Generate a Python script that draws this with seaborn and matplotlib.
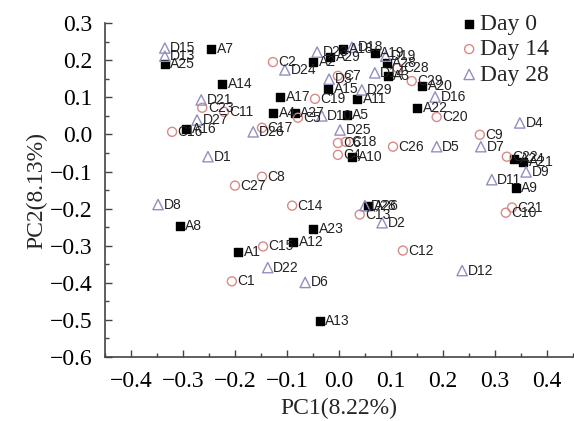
import pandas as pd
import seaborn as sns
import matplotlib.pyplot as plt
from matplotlib.ticker import MultipleLocator

# Day 0 samples (A)
a_names = ['A7', 'A25', 'A14', 'A16', 'A17', 'A2', 'A29', 'A18', 'A19', 'A28',
           'A3', 'A20', 'A22', 'A15', 'A11', 'A4', 'A27', 'A5', 'A10', 'A24',
           'A21', 'A9', 'A26', 'A8', 'A1', 'A23', 'A12', 'A13']
a_pc1 = [-0.246, -0.335, -0.225, -0.294, -0.113, -0.050, -0.017, 0.008, 0.069, 0.092,
         0.094, 0.160, 0.150, -0.021, 0.035, -0.127, -0.085, 0.015, 0.025, 0.337,
         0.354, 0.340, 0.056, -0.306, -0.194, -0.050, -0.088, -0.037]
a_pc2 = [0.230, 0.190, 0.136, 0.015, 0.101, 0.195, 0.209, 0.230, 0.219, 0.192,
         0.158, 0.131, 0.072, 0.123, 0.096, 0.058, 0.058, 0.053, -0.060, -0.066,
         -0.074, -0.144, -0.192, -0.248, -0.318, -0.254, -0.289, -0.504]

# Day 14 samples (C)
c_names = ['C2', 'C23', 'C11', 'C16', 'C17', 'C19', 'C7', 'C5', 'C6', 'C18',
           'C4', 'C26', 'C28', 'C29', 'C20', 'C9', 'C22', 'C21', 'C10', 'C8',
           'C27', 'C14', 'C13', 'C12', 'C15', 'C1']
c_pc1 = [-0.127, -0.263, -0.221, -0.321, -0.148, -0.046, -0.002, -0.079, -0.002, 0.013,
         -0.002, 0.104, 0.113, 0.140, 0.188, 0.271, 0.323, 0.333, 0.321, -0.148,
         -0.200, -0.090, 0.040, 0.123, -0.146, -0.206]
c_pc2 = [0.195, 0.072, 0.061, 0.007, 0.018, 0.096, 0.158, 0.045, -0.023, -0.020,
         -0.055, -0.033, 0.179, 0.144, 0.047, -0.001, -0.060, -0.197, -0.211, -0.114,
         -0.138, -0.192, -0.216, -0.313, -0.302, -0.396]

# Day 28 samples (D)
d_names = ['D15', 'D13', 'D21', 'D27', 'D1', 'D8', 'D26', 'D24', 'D23', 'D18',
           'D19', 'D14', 'D3', 'D29', 'D10', 'D25', 'D16', 'D4', 'D5', 'D7',
           'D9', 'D11', 'D28', 'D2', 'D12', 'D22', 'D6']
d_pc1 = [-0.335, -0.335, -0.265, -0.273, -0.252, -0.348, -0.165, -0.104, -0.042, 0.025,
         0.090, 0.069, -0.019, 0.044, -0.033, 0.002, 0.185, 0.348, 0.188, 0.273,
         0.360, 0.294, 0.050, 0.083, 0.237, -0.137, -0.065]
d_pc2 = [0.233, 0.211, 0.093, 0.039, -0.060, -0.189, 0.007, 0.174, 0.222, 0.235,
         0.211, 0.166, 0.149, 0.120, 0.050, 0.012, 0.101, 0.031, -0.033, -0.033,
         -0.101, -0.122, -0.192, -0.238, -0.367, -0.359, -0.399]

groups = ['Day 0', 'Day 14', 'Day 28']

df = pd.concat([
    pd.DataFrame({'name': a_names, 'PC1': a_pc1, 'PC2': a_pc2, 'group': groups[0]}),
    pd.DataFrame({'name': c_names, 'PC1': c_pc1, 'PC2': c_pc2, 'group': groups[1]}),
    pd.DataFrame({'name': d_names, 'PC1': d_pc1, 'PC2': d_pc2, 'group': groups[2]}),
])

sns.set_style('ticks')
serif = 'Liberation Serif'
sans = 'Liberation Sans'
big = 17

fig = plt.figure(figsize=(5.74, 4.21), dpi=100)
ax = fig.add_axes([0.183, 0.152, 0.815, 0.793])

styles = {
    'Day 0': dict(marker='s', s=26, color='black', filled=True),
    'Day 14': dict(marker='o', s=42, color='#d88a86', filled=False),
    'Day 28': dict(marker='^', s=55, color='#9090c0', filled=False),
}

for g in groups:
    st = styles[g]
    sub = df[df['group'] == g]
    sns.scatterplot(data=sub, x='PC1', y='PC2', marker=st['marker'], s=st['s'],
                    color=st['color'], linewidth=1.0, label=g, ax=ax, zorder=3)
    coll = ax.collections[-1]
    coll.set_edgecolor(st['color'])
    if not st['filled']:
        coll.set_facecolor('none')
    for _, r in sub.iterrows():
        ax.annotate(r['name'], (r['PC1'], r['PC2']), xytext=(4, 0),
                    textcoords='offset points', va='center', ha='left',
                    fontsize=10, family=sans, color='#222222', zorder=4)

ax.set_xlim(-0.45, 0.45)
ax.set_ylim(-0.6, 0.3)
ax.xaxis.set_major_locator(MultipleLocator(0.1))
ax.xaxis.set_minor_locator(MultipleLocator(0.05))
ax.yaxis.set_major_locator(MultipleLocator(0.1))
ax.yaxis.set_minor_locator(MultipleLocator(0.05))
ax.set_xticks([-0.4, -0.3, -0.2, -0.1, 0.0, 0.1, 0.2, 0.3, 0.4])
ax.set_xticklabels(['\u22120.4', '\u22120.3', '\u22120.2', '\u22120.1', '0.0', '0.1', '0.2', '0.3', '0.4'])
ax.set_yticks([0.3, 0.2, 0.1, 0.0, -0.1, -0.2, -0.3, -0.4, -0.5, -0.6])
ax.set_yticklabels(['0.3', '0.2', '0.1', '0.0', '\u22120.1', '\u22120.2', '\u22120.3',
                    '\u22120.4', '\u22120.5', '\u22120.6'])
ax.tick_params(which='major', direction='in', length=5, width=1, labelsize=big,
               colors='#444444', labelcolor='black')
ax.tick_params(axis='x', which='major', pad=10)
ax.tick_params(axis='y', which='major', pad=9)
ax.tick_params(which='minor', direction='in', length=3, width=1, colors='#444444')
for lab in ax.get_xticklabels() + ax.get_yticklabels():
    lab.set_family(serif)

sns.despine(ax=ax)
for sp in ['left', 'bottom']:
    ax.spines[sp].set_color('#444444')
    ax.spines[sp].set_linewidth(1.2)

ax.set_xlabel('PC1(8.22%)', fontsize=big, family=serif, labelpad=4)
ax.set_ylabel('PC2(8.13%)', fontsize=big, family=serif, labelpad=2)

leg = ax.legend(loc='upper left', bbox_to_anchor=(0.805, 0.968), bbox_transform=fig.transFigure,
                frameon=False, handlelength=0.6, handletextpad=0.15, labelspacing=0.16,
                borderpad=0, borderaxespad=0, prop={'family': serif, 'size': big})

fig.savefig('out.png', dpi=100)
